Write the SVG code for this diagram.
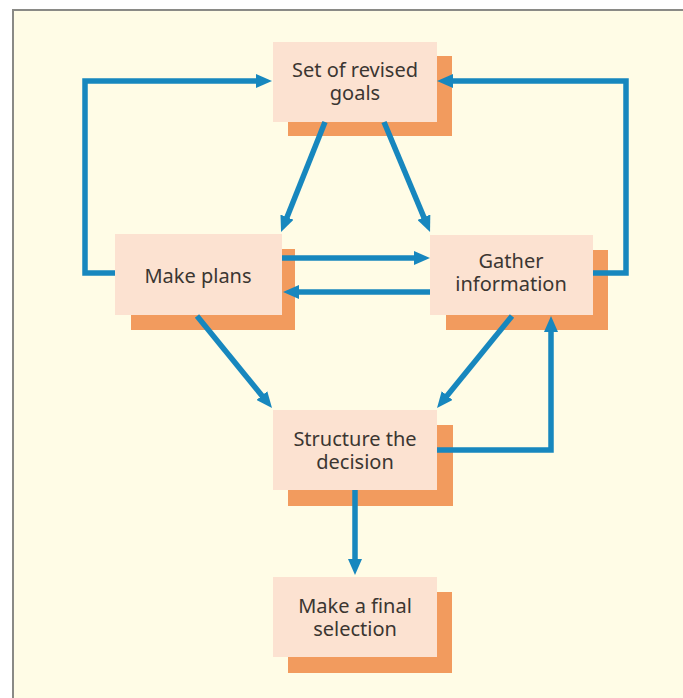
<svg xmlns="http://www.w3.org/2000/svg" width="683" height="698" viewBox="0 0 683 698">
<style>
.shadow{fill:#f29b5e}
.front{fill:#fce2d1}
.lbl{font-family:"Noto Sans","Open Sans",sans-serif;font-size:20px;fill:#3b3631;text-anchor:middle}
.conn{fill:none;stroke:#1787be;stroke-width:5.5;stroke-linejoin:miter}
</style>
<defs>
<marker id="ah" viewBox="0 0 16 14" markerWidth="16" markerHeight="14" refX="4" refY="7" orient="auto" markerUnits="userSpaceOnUse">
<path d="M0,0 L16,7 L0,14 z" fill="#1787be"/>
</marker>
</defs>
<rect x="0" y="0" width="683" height="698" fill="#ffffff"/>
<rect x="13" y="10" width="700" height="700" fill="#fffce6" stroke="#8a8a86" stroke-width="2"/>
<g id="node-goals">
<rect class="shadow" x="288" y="56" width="164" height="80"/>
<rect class="front" x="273" y="42" width="164" height="80"/>
<text class="lbl" x="355" y="77">Set of revised</text>
<text class="lbl" x="355" y="100">goals</text>
</g>
<g id="node-plans">
<rect class="shadow" x="131" y="249" width="164" height="81"/>
<rect class="front" x="115" y="234" width="167" height="81"/>
<text class="lbl" x="198" y="283">Make plans</text>
</g>
<g id="node-gather">
<rect class="shadow" x="446" y="250" width="162" height="80"/>
<rect class="front" x="430" y="235" width="163" height="80"/>
<text class="lbl" x="511" y="268">Gather</text>
<text class="lbl" x="511" y="291">information</text>
</g>
<g id="node-structure">
<rect class="shadow" x="288" y="425" width="165" height="81"/>
<rect class="front" x="273" y="410" width="164" height="80"/>
<text class="lbl" x="355" y="446">Structure the</text>
<text class="lbl" x="355" y="469">decision</text>
</g>
<g id="node-final">
<rect class="shadow" x="288" y="592" width="164" height="81"/>
<rect class="front" x="273" y="577" width="164" height="80"/>
<text class="lbl" x="355" y="613">Make a final</text>
<text class="lbl" x="355" y="636">selection</text>
</g>
<g id="connectors">
<path class="conn" d="M115,273 H85 V81 H260" marker-end="url(#ah)"/>
<path class="conn" d="M593,273 H626 V81 H449" marker-end="url(#ah)"/>
<path class="conn" d="M325,122 L285.5,220.9" marker-end="url(#ah)"/>
<path class="conn" d="M384,122 L425.4,220.9" marker-end="url(#ah)"/>
<path class="conn" d="M282,258 H418" marker-end="url(#ah)"/>
<path class="conn" d="M430,292 H295" marker-end="url(#ah)"/>
<path class="conn" d="M197,316 L264.4,398.7" marker-end="url(#ah)"/>
<path class="conn" d="M512,316 L444.6,398.7" marker-end="url(#ah)"/>
<path class="conn" d="M437,450 H551 V328" marker-end="url(#ah)"/>
<path class="conn" d="M355,490 V563" marker-end="url(#ah)"/>
</g>
</svg>
